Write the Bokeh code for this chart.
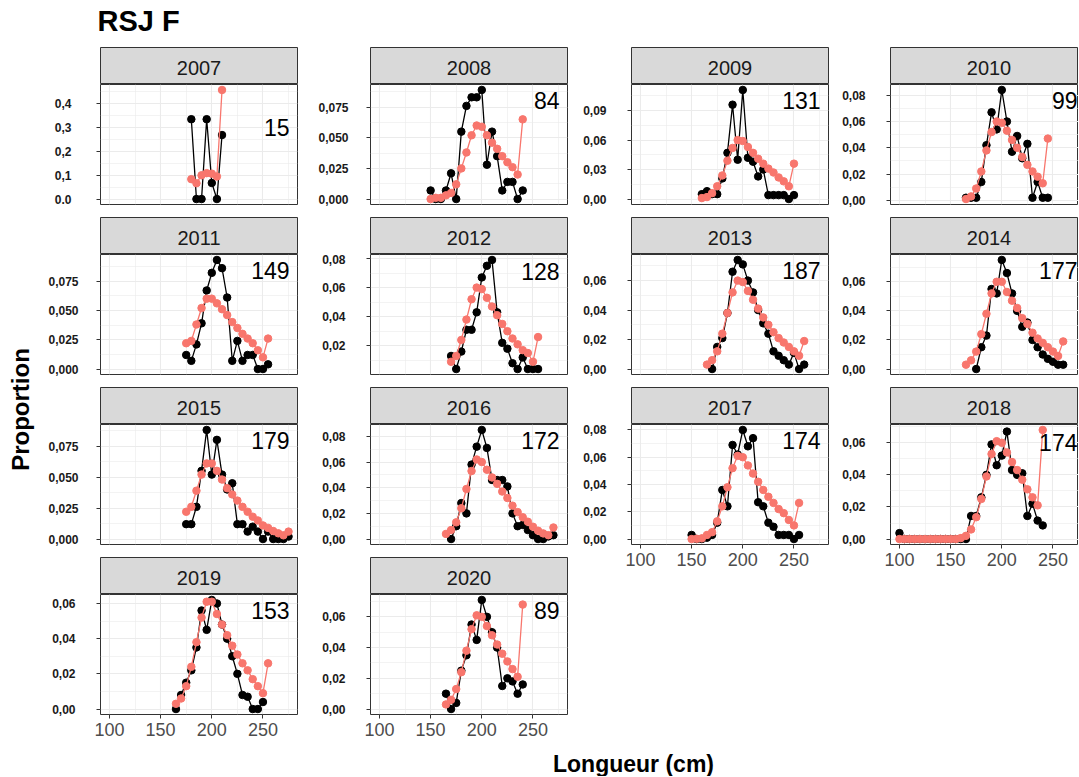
import math
from bokeh.plotting import figure
from bokeh.layouts import row, column
from bokeh.models import Range1d, FixedTicker, CustomJSTickFormatter, ColumnDataSource
from bokeh.core.properties import value
from bokeh.embed import file_html
from bokeh.resources import INLINE

FONT = "Liberation Sans"
RED = "#F8766D"

# ---------------- data ----------------
YEARS = [2007, 2008, 2009, 2010, 2011, 2012, 2013, 2014, 2015, 2016, 2017, 2018, 2019, 2020]
COUNTS = [15, 84, 131, 99, 149, 128, 187, 177, 179, 172, 174, 174, 153, 89]
YTICKS = [
    [0, 0.1, 0.2, 0.3, 0.4],
    [0, 0.025, 0.05, 0.075],
    [0, 0.03, 0.06, 0.09],
    [0, 0.02, 0.04, 0.06, 0.08],
    [0, 0.025, 0.05, 0.075],
    [0.02, 0.04, 0.06, 0.08],
    [0, 0.02, 0.04, 0.06],
    [0, 0.02, 0.04, 0.06],
    [0, 0.025, 0.05, 0.075],
    [0, 0.02, 0.04, 0.06, 0.08],
    [0, 0.02, 0.04, 0.06, 0.08],
    [0, 0.02, 0.04, 0.06],
    [0, 0.02, 0.04, 0.06],
    [0, 0.02, 0.04, 0.06],
]
YDEC = [1, 3, 2, 2, 3, 2, 2, 2, 3, 2, 2, 2, 2, 2]
XTICKS = [100, 150, 200, 250]
XMINOR = [125, 175, 225, 275]

len_obs_2007 = [180, 185, 190, 195, 200, 205, 210]
obs_2007 = [0.333, 0.0, 0.0, 0.333, 0.067, 0.0, 0.267]
len_fit_2007 = [180, 185, 190, 195, 200, 205, 210]
fit_2007 = [0.083, 0.066, 0.099, 0.108, 0.106, 0.094, 0.455]

len_obs_2008 = [150, 155, 160, 165, 170, 175, 180, 185, 190, 195, 200, 205, 210, 215, 220, 225, 230, 235, 240]
obs_2008 = [0.007, 0.0, 0.0, 0.007, 0.021, 0.0, 0.055, 0.076, 0.083, 0.083, 0.089, 0.028, 0.055, 0.035, 0.007, 0.014, 0.014, 0.0, 0.007]
len_fit_2008 = [150, 155, 160, 165, 170, 175, 180, 185, 190, 195, 200, 205, 210, 215, 220, 225, 230, 235, 240]
fit_2008 = [0.000, 0.001, 0.001, 0.003, 0.005, 0.012, 0.025, 0.038, 0.052, 0.060, 0.059, 0.052, 0.046, 0.041, 0.035, 0.030, 0.026, 0.020, 0.065]

len_obs_2009 = [160, 165, 170, 175, 180, 185, 190, 195, 200, 205, 210, 215, 220, 225, 230, 235, 240, 245, 250]
obs_2009 = [0.005, 0.008, 0.005, 0.005, 0.021, 0.047, 0.096, 0.040, 0.111, 0.042, 0.038, 0.023, 0.030, 0.004, 0.004, 0.004, 0.004, 0.0, 0.004]
len_fit_2009 = [160, 165, 170, 175, 180, 185, 190, 195, 200, 205, 210, 215, 220, 225, 230, 235, 240, 245, 250]
fit_2009 = [0.001, 0.002, 0.006, 0.013, 0.024, 0.039, 0.052, 0.060, 0.059, 0.053, 0.047, 0.041, 0.036, 0.031, 0.027, 0.022, 0.018, 0.013, 0.036]

len_obs_2010 = [165, 170, 175, 180, 185, 190, 195, 200, 205, 210, 215, 220, 225, 230, 235, 240, 245]
obs_2010 = [0.002, 0.002, 0.002, 0.014, 0.042, 0.067, 0.054, 0.084, 0.060, 0.037, 0.049, 0.032, 0.043, 0.002, 0.014, 0.002, 0.002]
len_fit_2010 = [165, 170, 175, 180, 185, 190, 195, 200, 205, 210, 215, 220, 225, 230, 235, 240, 245]
fit_2010 = [0.001, 0.003, 0.009, 0.022, 0.038, 0.052, 0.060, 0.059, 0.053, 0.046, 0.040, 0.033, 0.027, 0.022, 0.018, 0.013, 0.047]

len_obs_2011 = [175, 180, 185, 190, 195, 200, 205, 210, 215, 220, 225, 230, 235, 240, 245, 250, 255]
obs_2011 = [0.012, 0.007, 0.021, 0.039, 0.067, 0.082, 0.093, 0.086, 0.061, 0.007, 0.024, 0.007, 0.012, 0.012, 0.0, 0.0, 0.004]
len_fit_2011 = [175, 180, 185, 190, 195, 200, 205, 210, 215, 220, 225, 230, 235, 240, 245, 250, 255]
fit_2011 = [0.022, 0.024, 0.038, 0.052, 0.060, 0.060, 0.056, 0.051, 0.046, 0.040, 0.035, 0.030, 0.026, 0.022, 0.016, 0.010, 0.026]

len_obs_2012 = [170, 175, 180, 185, 190, 195, 200, 205, 210, 215, 220, 225, 230, 235, 240, 245, 250, 255]
obs_2012 = [0.013, 0.004, 0.016, 0.031, 0.031, 0.043, 0.067, 0.075, 0.079, 0.043, 0.022, 0.018, 0.008, 0.004, 0.012, 0.004, 0.004, 0.004]
len_fit_2012 = [170, 175, 180, 185, 190, 195, 200, 205, 210, 215, 220, 225, 230, 235, 240, 245, 250, 255]
fit_2012 = [0.009, 0.013, 0.024, 0.038, 0.052, 0.060, 0.059, 0.053, 0.047, 0.041, 0.035, 0.030, 0.025, 0.021, 0.017, 0.015, 0.009, 0.026]

len_obs_2013 = [170, 175, 180, 185, 190, 195, 200, 205, 210, 215, 220, 225, 230, 235, 240, 245, 250, 255, 260]
obs_2013 = [0.0, 0.015, 0.021, 0.038, 0.066, 0.074, 0.071, 0.060, 0.052, 0.040, 0.031, 0.024, 0.012, 0.009, 0.006, 0.003, 0.011, 0.0, 0.003]
len_fit_2013 = [165, 170, 175, 180, 185, 190, 195, 200, 205, 210, 215, 220, 225, 230, 235, 240, 245, 250, 255, 260]
fit_2013 = [0.003, 0.006, 0.012, 0.024, 0.038, 0.052, 0.060, 0.059, 0.053, 0.047, 0.041, 0.035, 0.030, 0.025, 0.021, 0.018, 0.015, 0.012, 0.009, 0.019]

len_obs_2014 = [175, 180, 185, 190, 195, 200, 205, 210, 215, 220, 225, 230, 235, 240, 245, 250, 255, 260]
obs_2014 = [0.0, 0.015, 0.023, 0.055, 0.052, 0.075, 0.066, 0.052, 0.040, 0.029, 0.032, 0.020, 0.015, 0.010, 0.007, 0.005, 0.003, 0.003]
len_fit_2014 = [165, 170, 175, 180, 185, 190, 195, 200, 205, 210, 215, 220, 225, 230, 235, 240, 245, 250, 255, 260]
fit_2014 = [0.003, 0.006, 0.012, 0.024, 0.038, 0.052, 0.060, 0.060, 0.053, 0.047, 0.042, 0.035, 0.031, 0.025, 0.021, 0.018, 0.015, 0.012, 0.009, 0.019]

len_obs_2015 = [175, 180, 185, 190, 195, 200, 205, 210, 215, 220, 225, 230, 235, 240, 245, 250, 255, 260, 265, 270, 275]
obs_2015 = [0.012, 0.012, 0.026, 0.055, 0.088, 0.052, 0.080, 0.052, 0.040, 0.045, 0.012, 0.012, 0.006, 0.010, 0.006, 0.0, 0.006, 0.0, 0.0, 0.0, 0.002]
len_fit_2015 = [175, 180, 185, 190, 195, 200, 205, 210, 215, 220, 225, 230, 235, 240, 245, 250, 255, 260, 265, 270, 275]
fit_2015 = [0.022, 0.026, 0.039, 0.052, 0.061, 0.061, 0.055, 0.048, 0.041, 0.036, 0.031, 0.026, 0.022, 0.018, 0.015, 0.011, 0.009, 0.0065, 0.0046, 0.003, 0.006]

len_obs_2016 = [170, 175, 180, 185, 190, 195, 200, 205, 210, 215, 220, 225, 230, 235, 240, 245, 250, 255, 260, 265, 270]
obs_2016 = [0.0, 0.010, 0.028, 0.020, 0.058, 0.072, 0.085, 0.071, 0.046, 0.046, 0.046, 0.041, 0.020, 0.010, 0.011, 0.007, 0.003, 0.0, 0.0, 0.002, 0.003]
len_fit_2016 = [165, 170, 175, 180, 185, 190, 195, 200, 205, 210, 215, 220, 225, 230, 235, 240, 245, 250, 255, 260, 265, 270]
fit_2016 = [0.004, 0.007, 0.013, 0.024, 0.039, 0.053, 0.062, 0.060, 0.054, 0.048, 0.043, 0.037, 0.032, 0.026, 0.021, 0.017, 0.0135, 0.0096, 0.0065, 0.0044, 0.003, 0.009]

len_obs_2017 = [150, 155, 160, 165, 170, 175, 180, 185, 190, 195, 200, 205, 210, 215, 220, 225, 230, 235, 240, 245, 250, 255]
obs_2017 = [0.003, 0.0, 0.0, 0.001, 0.003, 0.012, 0.036, 0.024, 0.069, 0.062, 0.080, 0.068, 0.074, 0.027, 0.024, 0.012, 0.009, 0.003, 0.003, 0.003, 0.0, 0.003]
len_fit_2017 = [150, 155, 160, 165, 170, 175, 180, 185, 190, 195, 200, 205, 210, 215, 220, 225, 230, 235, 240, 245, 250, 255]
fit_2017 = [0.0, 0.0002, 0.0005, 0.003, 0.005, 0.013, 0.024, 0.038, 0.052, 0.061, 0.060, 0.054, 0.048, 0.042, 0.036, 0.031, 0.0265, 0.022, 0.019, 0.014, 0.010, 0.0265]

len_obs_2018 = [100, 105, 110, 115, 120, 125, 130, 135, 140, 145, 150, 155, 160, 165, 170, 175, 180, 185, 190, 195, 200, 205, 210, 215, 220, 225, 230, 235, 240]
obs_2018 = [0.0037, 0.0, 0.0, 0.0, 0.0, 0.0, 0.0, 0.0, 0.0, 0.0, 0.0, 0.0, 0.0, 0.0, 0.0144, 0.0144, 0.026, 0.040, 0.059, 0.046, 0.052, 0.067, 0.043, 0.040, 0.041, 0.0144, 0.022, 0.0115, 0.0085]
len_fit_2018 = [100, 105, 110, 115, 120, 125, 130, 135, 140, 145, 150, 155, 160, 165, 170, 175, 180, 185, 190, 195, 200, 205, 210, 215, 220, 225, 230, 235, 240]
fit_2018 = [0.0, 0.0, 0.0, 0.0, 0.0, 0.0, 0.0, 0.0, 0.0, 0.0, 0.0, 0.0, 0.0006, 0.002, 0.006, 0.0136, 0.025, 0.039, 0.053, 0.061, 0.060, 0.054, 0.048, 0.043, 0.037, 0.031, 0.026, 0.021, 0.068]

len_obs_2019 = [165, 170, 175, 180, 185, 190, 195, 200, 205, 210, 215, 220, 225, 230, 235, 240, 245, 250]
obs_2019 = [0.0, 0.008, 0.015, 0.022, 0.035, 0.056, 0.045, 0.062, 0.060, 0.048, 0.040, 0.030, 0.020, 0.008, 0.007, 0.0, 0.0, 0.004]
len_fit_2019 = [165, 170, 175, 180, 185, 190, 195, 200, 205, 210, 215, 220, 225, 230, 235, 240, 245, 250, 255]
fit_2019 = [0.003, 0.006, 0.013, 0.024, 0.038, 0.052, 0.061, 0.061, 0.054, 0.048, 0.042, 0.036, 0.031, 0.026, 0.022, 0.017, 0.013, 0.009, 0.026]

len_obs_2020 = [165, 170, 175, 180, 185, 190, 195, 200, 205, 210, 215, 220, 225, 230, 235, 240]
obs_2020 = [0.010, 0.0, 0.004, 0.025, 0.035, 0.055, 0.045, 0.071, 0.060, 0.050, 0.040, 0.015, 0.020, 0.018, 0.010, 0.016]
len_fit_2020 = [165, 170, 175, 180, 185, 190, 195, 200, 205, 210, 215, 220, 225, 230, 235, 240]
fit_2020 = [0.003, 0.006, 0.013, 0.024, 0.038, 0.052, 0.061, 0.060, 0.054, 0.048, 0.042, 0.036, 0.031, 0.026, 0.021, 0.068]

SERIES = {
    2007: (len_obs_2007, obs_2007, len_fit_2007, fit_2007),
    2008: (len_obs_2008, obs_2008, len_fit_2008, fit_2008),
    2009: (len_obs_2009, obs_2009, len_fit_2009, fit_2009),
    2010: (len_obs_2010, obs_2010, len_fit_2010, fit_2010),
    2011: (len_obs_2011, obs_2011, len_fit_2011, fit_2011),
    2012: (len_obs_2012, obs_2012, len_fit_2012, fit_2012),
    2013: (len_obs_2013, obs_2013, len_fit_2013, fit_2013),
    2014: (len_obs_2014, obs_2014, len_fit_2014, fit_2014),
    2015: (len_obs_2015, obs_2015, len_fit_2015, fit_2015),
    2016: (len_obs_2016, obs_2016, len_fit_2016, fit_2016),
    2017: (len_obs_2017, obs_2017, len_fit_2017, fit_2017),
    2018: (len_obs_2018, obs_2018, len_fit_2018, fit_2018),
    2019: (len_obs_2019, obs_2019, len_fit_2019, fit_2019),
    2020: (len_obs_2020, obs_2020, len_fit_2020, fit_2020),
}

# ---------------- layout / style ----------------
FULL_W = 197            # full ggplot panel width
X_LO, X_HI = 91.25, 283.75
BORDER_L = 60
BORDER_R = [13, 4, 2, 0]
FRAME_W = [197, 197, 197, 188]
FRAME_H = 120
STRIP_H = 37
GAP = 13
AXIS_H = 35
YLAB_W = 40
TITLE_H = 47
XLAB_H = 27
TOTAL_W = YLAB_W + sum(BORDER_L + FRAME_W[i] + BORDER_R[i] for i in range(4))
GRID_COL = "#EBEBEB"
DARK = "#333333"
YLAB_FS = 12
LABEL_CENTER_OFFSET = 37   # centre of y tick labels, px left of the frame
BOTTOM_YEARS = {2017, 2018, 2019, 2020}


def x_end(col):
    return X_LO + FRAME_W[col] / FULL_W * (X_HI - X_LO)


def label_width(dec):
    # approximate width (Arial metrics) of the tick labels
    n_digits = 1 + dec
    return YLAB_FS * (0.556 * n_digits + 0.278)


def make_strip(year, col):
    w = BORDER_L + FRAME_W[col] + BORDER_R[col]
    s = figure(width=w, height=STRIP_H, x_range=Range1d(0, FRAME_W[col] / FULL_W),
               y_range=Range1d(0, 1), x_axis_type=None, y_axis_type=None,
               toolbar_location=None, output_backend="svg",
               min_border_left=BORDER_L, min_border_right=BORDER_R[col],
               min_border_top=0, min_border_bottom=0)
    s.background_fill_color = "#D9D9D9"
    s.outline_line_color = DARK
    s.outline_line_width = 1
    s.text(x=[0.5], y=[0.44], text=[str(year)], text_align="center",
           text_baseline="middle", text_font=value(FONT), text_font_size="20px",
           text_color="#1A1A1A")
    return s


def make_panel(idx, col):
    year = YEARS[idx]
    lo_x, lo_y, lf_x, lf_y = SERIES[year]
    bottom = year in BOTTOM_YEARS
    bb = AXIS_H if bottom else GAP
    w = BORDER_L + FRAME_W[col] + BORDER_R[col]
    allv = list(lo_y) + list(lf_y)
    ymin, ymax = min(allv), max(allv)
    pad = 0.05 * (ymax - ymin)
    p = figure(width=w, height=FRAME_H + bb,
               x_range=Range1d(X_LO, x_end(col)), y_range=Range1d(ymin - pad, ymax + pad),
               toolbar_location=None, output_backend="svg",
               min_border_left=BORDER_L, min_border_right=BORDER_R[col],
               min_border_top=0, min_border_bottom=bb)
    p.outline_line_color = DARK
    p.outline_line_width = 1
    p.background_fill_color = "white"

    xt = FixedTicker(ticks=XTICKS, minor_ticks=XMINOR)
    p.xaxis.ticker = xt
    p.xgrid.ticker = xt
    yt_list = YTICKS[idx]
    step = yt_list[1] - yt_list[0]
    yminor = [t - step / 2 for t in yt_list] + [yt_list[-1] + step / 2]
    yt = FixedTicker(ticks=yt_list, minor_ticks=yminor)
    p.yaxis.ticker = yt
    p.ygrid.ticker = yt

    for g in (p.xgrid, p.ygrid):
        g.grid_line_color = GRID_COL
        g.grid_line_width = 1.1
        g.minor_grid_line_color = GRID_COL
        g.minor_grid_line_width = 0.6

    p.yaxis.formatter = CustomJSTickFormatter(
        args=dict(dec=YDEC[idx], dot0=(year == 2007)),
        code="""
            const s = tick.toFixed(dec);
            if (dot0 && Math.abs(tick) < 1e-12) { return s; }
            return s.replace('.', ',');
        """)
    lw = label_width(YDEC[idx])
    p.yaxis.axis_line_color = None
    p.yaxis.major_tick_line_color = DARK
    p.yaxis.major_tick_out = 4
    p.yaxis.major_tick_in = 0
    p.yaxis.minor_tick_line_color = None
    p.yaxis.major_label_text_font = FONT
    p.yaxis.major_label_text_font_size = f"{YLAB_FS}px"
    p.yaxis.major_label_text_font_style = "bold"
    p.yaxis.major_label_text_color = "#1A1A1A"
    p.yaxis.major_label_standoff = int(round(LABEL_CENTER_OFFSET - 4 - lw / 2))

    if bottom:
        p.xaxis.axis_line_color = None
        p.xaxis.major_tick_line_color = DARK
        p.xaxis.major_tick_out = 4
        p.xaxis.major_tick_in = 0
        p.xaxis.minor_tick_line_color = None
        p.xaxis.major_label_text_font = FONT
        p.xaxis.major_label_text_font_size = "18px"
        p.xaxis.major_label_text_color = "#4D4D4D"
        p.xaxis.major_label_standoff = 4
    else:
        p.xaxis.visible = False

    obs_src = ColumnDataSource(dict(x=lo_x, y=lo_y))
    fit_src = ColumnDataSource(dict(x=lf_x, y=lf_y))
    p.line("x", "y", source=obs_src, line_color="black", line_width=1.3)
    p.scatter("x", "y", source=obs_src, size=7.5, fill_color="black", line_color="black")
    p.line("x", "y", source=fit_src, line_color=RED, line_width=1.3)
    p.scatter("x", "y", source=fit_src, size=7.5, fill_color=RED, line_color=RED)

    lx = min(276.0, x_end(col) - 1.0)
    p.text(x=[lx], y=[0.9 * max(lo_y)], text=[str(COUNTS[idx])], text_align="right",
           text_baseline="middle", text_font=value(FONT), text_font_size="23px",
           text_color="black")
    return p


cols = [[], [], [], []]
for i, yr in enumerate(YEARS):
    c = i % 4
    cols[c].append(make_strip(yr, c))
    cols[c].append(make_panel(i, c))

col_height = 3 * (STRIP_H + FRAME_H + GAP) + STRIP_H + FRAME_H + AXIS_H


def blank(w, h):
    f = figure(width=w, height=h, x_range=Range1d(0, w), y_range=Range1d(0, h),
               x_axis_type=None, y_axis_type=None, toolbar_location=None,
               output_backend="svg", min_border=0)
    f.outline_line_color = None
    return f


ylab = blank(YLAB_W, col_height)
ylab.text(x=[20], y=[col_height - 362], text=["Proportion"], angle=math.pi / 2,
          text_align="center", text_baseline="middle", text_font=value(FONT),
          text_font_size="24px", text_font_style="bold", text_color="black")

title_fig = blank(TOTAL_W, TITLE_H)
title_fig.text(x=[97], y=[TITLE_H - 20], text=["RSJ F"], text_align="left",
               text_baseline="middle", text_font=value(FONT), text_font_size="29px",
               text_font_style="bold", text_color="black")

xlab = blank(TOTAL_W, XLAB_H)
xlab.text(x=[633], y=[XLAB_H - 14], text=["Longueur (cm)"], text_align="center",
          text_baseline="middle", text_font=value(FONT), text_font_size="23px",
          text_font_style="bold", text_color="black")

layout = column(title_fig,
                row(ylab, column(*cols[0]), column(*cols[1]), column(*cols[2]), column(*cols[3])),
                xlab)

open("out.html", "w").write(file_html(layout, INLINE))
